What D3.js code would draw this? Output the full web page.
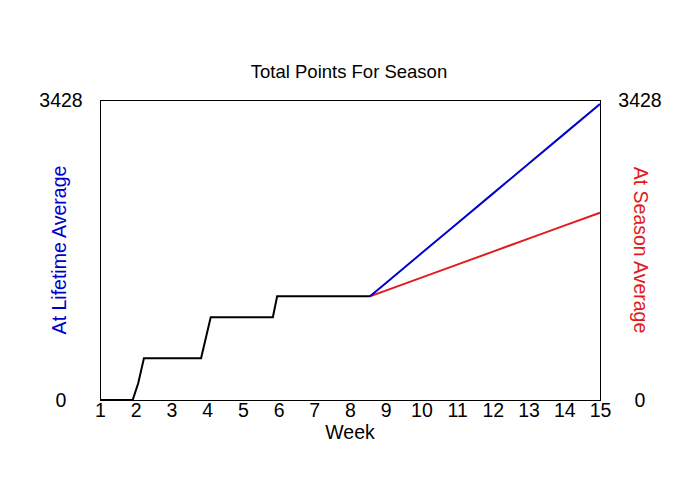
<!DOCTYPE html>
<html>
<head>
<meta charset="utf-8">
<script src="https://cdn.jsdelivr.net/npm/d3@7"></script>
<style>
  html, body { margin: 0; padding: 0; background: #fff; }
  text { font-family: "Liberation Sans", Arial, sans-serif; }
</style>
</head>
<body>
<svg id="chart" width="700" height="500"></svg>
<script>
// ---- data ----
const weekTicks = [1,2,3,4,5,6,7,8,9,10,11,12,13,14,15];
const yMax = 3428;
const yTickLabels = ["0", "3428"];

const actualWeeks  = [1, 1.915, 2.07, 2.23, 3.83, 4.10, 5.84, 5.96, 8.56];
const actualPoints = [0, 0, 191, 476, 476, 945, 945, 1185, 1185];

const projWeeks    = [8.56, 9, 10, 11, 12, 13, 14, 15];
const lifetimeAvg  = [1185, 1335, 1676, 2017, 2358, 2700, 3041, 3382];
const seasonAvg    = [1185, 1250, 1399, 1547, 1695, 1844, 1992, 2140];

// ---- layout ----
const svg = d3.select("#chart");
const mLeft = 100, mRight = 600, mTop = 100, mBottom = 400;

const x = d3.scaleLinear().domain([1, 15]).range([mLeft, mRight]);
const y = d3.scaleLinear().domain([0, yMax]).range([mBottom, mTop]);

// title
svg.append("text").attr("x", 349).attr("y", 78)
  .attr("text-anchor", "middle").attr("font-size", 18.5).text("Total Points For Season");

// frame
svg.append("rect").attr("x", mLeft + 0.5).attr("y", mTop + 0.5)
  .attr("width", mRight - mLeft).attr("height", mBottom - mTop)
  .attr("fill", "none").attr("stroke", "#000").attr("stroke-width", 1);

// x tick labels
const xAxis = d3.axisBottom(x).tickValues(weekTicks).tickSize(0).tickPadding(3)
  .tickFormat(d3.format("d"));
const gx = svg.append("g").attr("transform", `translate(0,${mBottom})`).call(xAxis);
gx.select(".domain").remove();
gx.selectAll("text").attr("font-size", 19.5).attr("fill", "#000")
  .attr("font-family", '"Liberation Sans", Arial, sans-serif');

svg.append("text").attr("x", 350).attr("y", 439)
  .attr("text-anchor", "middle").attr("font-size", 19.5).text("Week");

// y labels left/right
const yVals = [0, yMax];
yVals.forEach((v, i) => {
  svg.append("text").attr("x", 61).attr("y", y(v) + 7)
    .attr("text-anchor", "middle").attr("font-size", 19.5).text(yTickLabels[i]);
  svg.append("text").attr("x", 640).attr("y", y(v) + 7)
    .attr("text-anchor", "middle").attr("font-size", 19.5).text(yTickLabels[i]);
});

// axis titles
svg.append("text")
  .attr("transform", `translate(66,${(mTop + mBottom) / 2}) rotate(-90)`)
  .attr("text-anchor", "middle").attr("font-size", 19.5).attr("fill", "#0000cc")
  .text("At Lifetime Average");
svg.append("text")
  .attr("transform", `translate(634,${(mTop + mBottom) / 2}) rotate(90)`)
  .attr("text-anchor", "middle").attr("font-size", 19.5).attr("fill", "#e31a1c")
  .text("At Season Average");

// lines
const line = d3.line().x(d => x(d[0])).y(d => y(d[1]));
const zip = (a, b) => a.map((v, i) => [v, b[i]]);

svg.append("path").datum(zip(projWeeks, seasonAvg)).attr("d", line)
  .attr("fill", "none").attr("stroke", "#e31a1c").attr("stroke-width", 2);
svg.append("path").datum(zip(projWeeks, lifetimeAvg)).attr("d", line)
  .attr("fill", "none").attr("stroke", "#0000cc").attr("stroke-width", 2);
svg.append("path").datum(zip(actualWeeks, actualPoints)).attr("d", line)
  .attr("fill", "none").attr("stroke", "#000").attr("stroke-width", 2);
</script>
</body>
</html>
